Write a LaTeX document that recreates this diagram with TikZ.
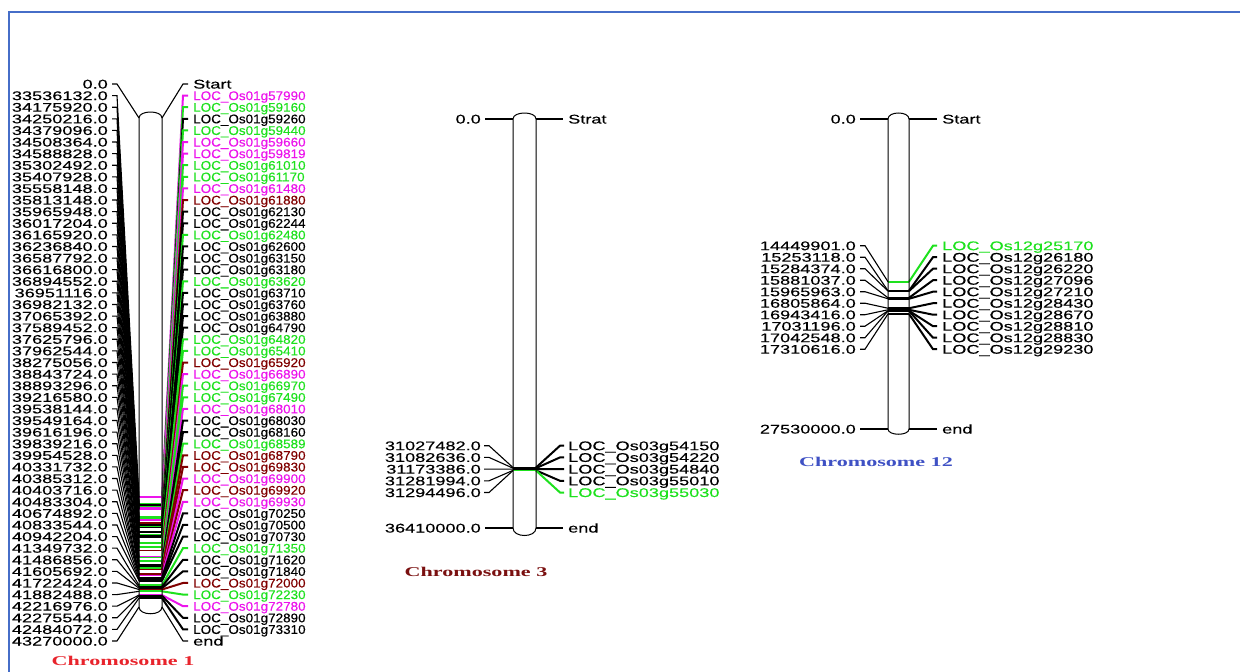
\documentclass[tikz,border=0pt]{standalone}
\usepackage{fontspec}
\newfontfamily\numfont[FakeStretch=1.44,FakeBold=0.4]{Liberation Sans}
\newfontfamily\locfont[FakeStretch=1.07,FakeBold=0.4]{Liberation Sans}
\newfontfamily\ttlfont[FakeStretch=1.65]{Liberation Serif}
\definecolor{mag}{RGB}{236,20,236}
\definecolor{grn}{RGB}{30,225,30}
\definecolor{dred}{RGB}{128,0,0}
\definecolor{ttlred}{RGB}{232,36,44}
\definecolor{ttldred}{RGB}{122,16,16}
\definecolor{ttlblue}{RGB}{63,81,196}
\definecolor{frame}{RGB}{70,110,200}
\tikzset{
  lab/.style={inner sep=0pt, font=\numfont\fontsize{12.6}{14}\selectfont},
  locA/.style={inner sep=0pt, font=\locfont\fontsize{12.6}{14}\selectfont},
  thinline/.style={line width=1.1pt, black},
  conn/.style={line width=2pt},
  band/.style={line width=1.8pt},
  chrom/.style={line width=1pt, black},
  ttl/.style={inner sep=0pt, font=\ttlfont\bfseries\fontsize{13.4}{15}\selectfont},
}
\begin{document}
\begin{tikzpicture}[x=1pt,y=-1pt]
\useasboundingbox (0,0) rectangle (1240,672);
% frame
\draw[frame, line width=1.8pt] (9,672) -- (9,12) -- (1240,12);

% ================= Chromosome 1 =================
\fill[white] (139,118) .. controls (139,110) and (162,110) .. (162,118) -- (162,607) .. controls (162,616) and (139,616) .. (139,607) -- cycle;
\foreach \i/\nm/\mb/\loc/\col in {
2/33536132.0/33.536132/57990/mag,
3/34175920.0/34.175920/59160/grn,
4/34250216.0/34.250216/59260/black,
5/34379096.0/34.379096/59440/grn,
6/34508364.0/34.508364/59660/mag,
7/34588828.0/34.588828/59819/mag,
8/35302492.0/35.302492/61010/grn,
9/35407928.0/35.407928/61170/grn,
10/35558148.0/35.558148/61480/mag,
11/35813148.0/35.813148/61880/dred,
12/35965948.0/35.965948/62130/black,
13/36017204.0/36.017204/62244/black,
14/36165920.0/36.165920/62480/grn,
15/36236840.0/36.236840/62600/black,
16/36587792.0/36.587792/63150/black,
17/36616800.0/36.616800/63180/black,
18/36894552.0/36.894552/63620/grn,
19/36951116.0/36.951116/63710/black,
20/36982132.0/36.982132/63760/black,
21/37065392.0/37.065392/63880/black,
22/37589452.0/37.589452/64790/black,
23/37625796.0/37.625796/64820/grn,
24/37962544.0/37.962544/65410/grn,
25/38275056.0/38.275056/65920/dred,
26/38843724.0/38.843724/66890/mag,
27/38893296.0/38.893296/66970/grn,
28/39216580.0/39.216580/67490/grn,
29/39538144.0/39.538144/68010/mag,
30/39549164.0/39.549164/68030/black,
31/39616196.0/39.616196/68160/black,
32/39839216.0/39.839216/68589/grn,
33/39954528.0/39.954528/68790/dred,
34/40331732.0/40.331732/69830/dred,
35/40385312.0/40.385312/69900/mag,
36/40403716.0/40.403716/69920/dred,
37/40483304.0/40.483304/69930/mag,
38/40674892.0/40.674892/70250/black,
39/40833544.0/40.833544/70500/black,
40/40942204.0/40.942204/70730/black,
41/41349732.0/41.349732/71350/grn,
42/41486856.0/41.486856/71620/black,
43/41605692.0/41.605692/71840/black,
44/41722424.0/41.722424/72000/dred,
45/41882488.0/41.882488/72230/grn,
46/42216976.0/42.216976/72780/mag,
47/42275544.0/42.275544/72890/black,
48/42484072.0/42.484072/73310/black}{
  \pgfmathsetmacro\yr{84+(\i-1)*11.604}
  \pgfmathsetmacro\yb{118+\mb*11.30113}
  \node[lab, anchor=base east] (Al\i) at (108,\yr+4.5) {\nm};
  \node[locA, text=\col, anchor=base west] (Ar\i) at (193,\yr+4.5) {LOC\_Os01g\loc};
  \coordinate (Alt\i) at (112,\yr);
  \coordinate (Ala\i) at (117,\yr);
  \coordinate (Alb\i) at (139,\yb);
  \coordinate (Arb\i) at (162,\yb);
  \coordinate (Ara\i) at (183,\yr);
  \coordinate (Art\i) at (188,\yr);
  \draw[band, \col] (Alb\i) -- (Arb\i);
  \draw[thinline] (Alt\i) -- (Ala\i) -- (Alb\i);
  \draw[conn, \col] (Arb\i) -- (Ara\i) -- (Art\i);
}
\draw[chrom] (139,118) .. controls (139,110) and (162,110) .. (162,118) -- (162,607) .. controls (162,616) and (139,616) .. (139,607) -- cycle;
% start / end rows
\node[lab, anchor=base east] (Al1) at (108,88.5) {0.0};
\node[lab, anchor=base west] (Ar1) at (193,88.5) {Start};
\coordinate (Alt1) at (112,84); \coordinate (Ala1) at (117,84);
\coordinate (Ctop1l) at (139,118); \coordinate (Ctop1r) at (162,118);
\coordinate (Ara1) at (183,84); \coordinate (Art1) at (188,84);
\draw[thinline] (Alt1) -- (Ala1) -- (Ctop1l);
\draw[thinline] (Ctop1r) -- (Ara1) -- (Art1);
\node[lab, anchor=base east] (Al49) at (108,645.5) {43270000.0};
\node[lab, anchor=base west] (Ar49) at (193,645.5) {end};
\coordinate (Alt49) at (112,641); \coordinate (Ala49) at (117,641);
\coordinate (Cbot1l) at (139,607); \coordinate (Cbot1r) at (162,607);
\coordinate (Ara49) at (183,641); \coordinate (Art49) at (188,641);
\draw[thinline] (Alt49) -- (Ala49) -- (Cbot1l);
\draw[thinline] (Cbot1r) -- (Ara49) -- (Art49);
\node[ttl, text=ttlred] (T1) at (123,661) {Chromosome 1};

% ================= Chromosome 3 =================
\fill[white] (513,119) .. controls (513,111) and (536,111) .. (536,119) -- (536,528) .. controls (536,538) and (513,538) .. (513,528) -- cycle;
\foreach \i/\nm/\mb/\loc/\col in {
1/31027482.0/31.027482/54150/black,
2/31082636.0/31.082636/54220/black,
3/31173386.0/31.173386/54840/black,
4/31281994.0/31.281994/55010/black,
5/31294496.0/31.294496/55030/grn}{
  \pgfmathsetmacro\yr{445.7+(\i-1)*11.7}
  \pgfmathsetmacro\yb{119+\mb*11.2332}
  \node[lab, anchor=base east] (Bl\i) at (481,\yr+4.5) {\nm};
  \node[lab, text=\col, anchor=base west] (Br\i) at (568,\yr+4.5) {LOC\_Os03g\loc};
  \coordinate (Blt\i) at (484,\yr);
  \coordinate (Bla\i) at (489,\yr);
  \coordinate (Blb\i) at (513,\yb);
  \coordinate (Brb\i) at (536,\yb);
  \coordinate (Bra\i) at (560,\yr);
  \coordinate (Brt\i) at (564,\yr);
  \draw[band, \col] (Blb\i) -- (Brb\i);
  \draw[thinline] (Blt\i) -- (Bla\i) -- (Blb\i);
  \draw[conn, \col] (Brb\i) -- (Bra\i) -- (Brt\i);
}
\draw[chrom] (513,119) .. controls (513,111) and (536,111) .. (536,119) -- (536,528) .. controls (536,538) and (513,538) .. (513,528) -- cycle;
\node[lab, anchor=base east] (B0l) at (481,123.5) {0.0};
\node[lab, anchor=base west] (B0r) at (568,123.5) {Strat};
\coordinate (B0a) at (485,119); \coordinate (B0b) at (513,119);
\coordinate (B0c) at (536,119); \coordinate (B0d) at (563,119);
\draw[thinline] (B0a) -- (B0b); \draw[thinline] (B0c) -- (B0d);
\node[lab, anchor=base east] (BEl) at (481,532.5) {36410000.0};
\node[lab, anchor=base west] (BEr) at (568,532.5) {end};
\coordinate (BEa) at (485,528); \coordinate (BEb) at (513,528);
\coordinate (BEc) at (536,528); \coordinate (BEd) at (563,528);
\draw[thinline] (BEa) -- (BEb); \draw[thinline] (BEc) -- (BEd);
\node[ttl, text=ttldred] (T3) at (476,572) {Chromosome 3};

% ================= Chromosome 12 =================
\fill[white] (888,119) .. controls (888,111) and (909,111) .. (909,119) -- (909,429) .. controls (909,436) and (888,436) .. (888,429) -- cycle;
\foreach \i/\nm/\mb/\loc/\col in {
1/14449901.0/14.449901/25170/grn,
2/15253118.0/15.253118/26180/black,
3/15284374.0/15.284374/26220/black,
4/15881037.0/15.881037/27096/black,
5/15965963.0/15.965963/27210/black,
6/16805864.0/16.805864/28430/black,
7/16943416.0/16.943416/28670/black,
8/17031196.0/17.031196/28810/black,
9/17042548.0/17.042548/28830/black,
10/17310616.0/17.310616/29230/black}{
  \pgfmathsetmacro\yr{245.7+(\i-1)*11.5}
  \pgfmathsetmacro\yb{119+\mb*11.2604}
  \node[lab, anchor=base east] (Cl\i) at (856,\yr+4.5) {\nm};
  \node[lab, text=\col, anchor=base west] (Cr\i) at (942,\yr+4.5) {LOC\_Os12g\loc};
  \coordinate (Clt\i) at (860,\yr);
  \coordinate (Cla\i) at (865,\yr);
  \coordinate (Clb\i) at (888,\yb);
  \coordinate (Crb\i) at (909,\yb);
  \coordinate (Cra\i) at (933,\yr);
  \coordinate (Crt\i) at (937,\yr);
  \draw[band, \col] (Clb\i) -- (Crb\i);
  \draw[thinline] (Clt\i) -- (Cla\i) -- (Clb\i);
  \draw[conn, \col] (Crb\i) -- (Cra\i) -- (Crt\i);
}
\draw[chrom] (888,119) .. controls (888,111) and (909,111) .. (909,119) -- (909,429) .. controls (909,436) and (888,436) .. (888,429) -- cycle;
\node[lab, anchor=base east] (C0l) at (856,123.5) {0.0};
\node[lab, anchor=base west] (C0r) at (942,123.5) {Start};
\coordinate (C0a) at (860,119); \coordinate (C0b) at (888,119);
\coordinate (C0c) at (909,119); \coordinate (C0d) at (937,119);
\draw[thinline] (C0a) -- (C0b); \draw[thinline] (C0c) -- (C0d);
\node[lab, anchor=base east] (CEl) at (856,433.5) {27530000.0};
\node[lab, anchor=base west] (CEr) at (942,433.5) {end};
\coordinate (CEa) at (860,429); \coordinate (CEb) at (888,429);
\coordinate (CEc) at (909,429); \coordinate (CEd) at (937,429);
\draw[thinline] (CEa) -- (CEb); \draw[thinline] (CEc) -- (CEd);
\node[ttl, text=ttlblue] (T12) at (876,462) {Chromosome 12};
\end{tikzpicture}
\end{document}
